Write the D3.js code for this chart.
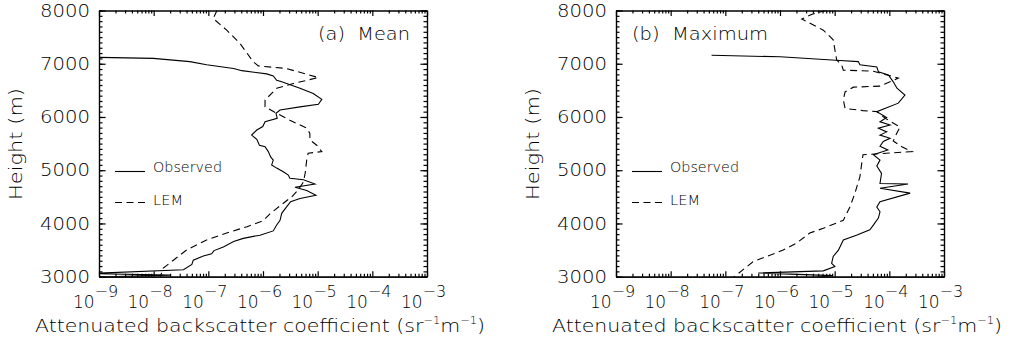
<!DOCTYPE html>
<html><head><meta charset="utf-8">
<script src="https://cdn.jsdelivr.net/npm/d3@7"></script>
<style>
html,body{margin:0;padding:0;background:#fff;}
svg text{font-family:"DejaVu Sans",sans-serif;font-weight:200;fill:#000;}
</style></head>
<body><svg id="c" width="1018" height="343"></svg>
<script>
// ---------- data ----------
const heightTicks = [3000, 4000, 5000, 6000, 7000, 8000];
const decadeTicks = [1e-9, 1e-8, 1e-7, 1e-6, 1e-5, 1e-4, 1e-3];
const decadeExponents = ["\u22129", "\u22128", "\u22127", "\u22126", "\u22125", "\u22124", "\u22123"];
const panelTitles = ["(a)  Mean", "(b)  Maximum"];
const legendLabels = ["Observed", "LEM"];

// (a) Mean, observed
const meanObsHeight = [7120,7120,7100,7040,6980,6910,6870,6810,6770,6690,6660,6540,6440,6330,6240,6190,6130,6070,5975,5910,5820,5755,5660,5580,5470,5440,5350,5250,5190,5100,5040,4970,4910,4850,4820,4740,4680,4620,4530,4470,4410,4310,4190,4060,3970,3860,3780,3720,3660,3560,3490,3430,3390,3310,3230,3130,3060,3030,2990];
const meanObsValue  = [6.8e-10,8.9e-10,9.8e-9,4.6e-8,9.3e-8,2.9e-7,4.1e-7,1.17e-6,1.54e-6,1.78e-6,2.2e-6,4.75e-6,8.3e-6,1.19e-5,1.03e-5,4.75e-6,2.05e-6,1.73e-6,1.82e-6,1.09e-6,9.9e-7,7.7e-7,6.2e-7,7.7e-7,8.6e-7,1.09e-6,1.25e-6,1.38e-6,1.54e-6,1.44e-6,1.78e-6,2.35e-6,2.9e-6,3.1e-6,5.5e-6,8.9e-6,3.85e-6,6.3e-6,9.3e-6,4.75e-6,3.2e-6,2.7e-6,2.2e-6,2.05e-6,1.78e-6,1.54e-6,8.8e-7,4.35e-7,2.9e-7,1.88e-7,1.27e-7,1.15e-7,8.1e-8,5.3e-8,5.0e-8,3.5e-8,6.8e-10,2.0e-8,6.8e-10];
// (a) Mean, LEM
const meanLemHeight = [8000,7850,7630,7380,7040,6960,6910,6740,6630,6540,6380,6320,6190,6070,5940,5790,5690,5570,5470,5350,5320,5190,4940,4780,4630,4500,4380,4180,4050,3940,3820,3690,3500,3310,3160,2980];
const meanLemValue  = [1.44e-7,1.23e-7,2.17e-7,3.8e-7,6.6e-7,8.2e-7,2.7e-6,1.03e-5,3.6e-6,1.78e-6,1.25e-6,1.09e-6,1.09e-6,1.78e-6,3.1e-6,6.3e-6,7.2e-6,7.2e-6,9.6e-6,1.19e-5,6.7e-6,6.3e-6,5.9e-6,5.5e-6,4.4e-6,3.35e-6,2.35e-6,1.34e-6,1.0e-6,5.1e-7,2.17e-7,9.3e-8,4.0e-8,2.29e-8,1.5e-8,1.3e-8];
// (b) Maximum, observed
const maxObsHeight = [7160,7130,7060,7040,6980,6940,6850,6790,6660,6540,6410,6260,6100,5990,5910,5850,5790,5720,5660,5600,5540,5450,5380,5290,5190,5080,4940,4750,4740,4660,4570,4410,4310,4220,4100,3970,3880,3780,3690,3560,3500,3380,3250,3190,3110,3070,3020,2960];
const maxObsValue  = [5.6e-8,1.0e-6,1.25e-5,2.7e-5,2.9e-5,5.9e-5,6.3e-5,9.6e-5,1.18e-4,1.38e-4,1.93e-4,1.46e-4,5.9e-5,8.95e-5,6.75e-5,1.03e-4,6.3e-5,8.95e-5,6.75e-5,1.03e-4,7.75e-5,6.75e-5,9.4e-5,5.1e-5,6.75e-5,5.9e-5,7.2e-5,6.75e-5,2.2e-4,6.75e-5,2.4e-4,6.75e-5,5.9e-5,6.75e-5,6.3e-5,5.1e-5,4.4e-5,2.5e-5,1.44e-5,1.25e-5,1.17e-5,9.4e-6,8.8e-6,1.01e-5,6.2e-6,4.0e-7,9.3e-6,2.3e-6];
// (b) Maximum, LEM
const maxLemHeight = [8000,7930,7840,7630,7450,7260,7070,6980,6880,6860,6730,6580,6560,6470,6320,6160,6120,6100,5980,5810,5690,5550,5440,5350,5290,5100,4880,4570,4310,4060,3910,3820,3630,3500,3280,2985];
const maxLemValue  = [6.9e-6,3.85e-6,2.5e-6,6.2e-6,9.4e-6,1.01e-5,1.09e-5,1.34e-5,1.44e-5,5.1e-5,1.46e-4,6.75e-5,2.2e-5,1.55e-5,1.44e-5,1.55e-5,3.3e-5,5.9e-5,8.3e-5,1.57e-4,1.36e-4,1.18e-4,1.7e-4,2.6e-4,3.3e-5,3.1e-5,2.9e-5,2.35e-5,1.9e-5,1.44e-5,6.2e-6,3.5e-6,2.0e-6,1.14e-6,3.2e-7,1.4e-7];

// ---------- layout ----------
const svg = d3.select("#c");
const plotTop = 10.5, plotBottom = 276.7;
const panels = [
  {left: 99,  right: 427, title: panelTitles[0], obs: d3.zip(meanObsValue, meanObsHeight), lem: d3.zip(meanLemValue, meanLemHeight), titleX: 318, titleLen: 92},
  {left: 616, right: 944, title: panelTitles[1], obs: d3.zip(maxObsValue, maxObsHeight),  lem: d3.zip(maxLemValue, maxLemHeight),  titleX: 632, titleLen: 136}
];
const minorX = d3.range(-9, -3).flatMap(e => d3.range(2, 10).map(k => k * Math.pow(10, e)));
const minorY = d3.range(3000, 8001, 100);

panels.forEach((p, i) => {
  const x = d3.scaleLog().domain([1e-9, 1e-3]).range([p.left, p.right]);
  const y = d3.scaleLinear().domain([3000, 8000]).range([plotBottom, plotTop]);
  const g = svg.append("g");

  const clipId = "clip" + i;
  svg.append("clipPath").attr("id", clipId).append("rect")
    .attr("x", p.left).attr("y", plotTop).attr("width", p.right - p.left).attr("height", plotBottom - plotTop);

  const styleAxis = sel => {
    sel.select(".domain").attr("stroke", "#000").attr("stroke-width", 1.2);
    sel.selectAll(".tick line").attr("stroke", "#000").attr("stroke-width", 1.2);
  };

  // minor ticks
  g.append("g").attr("transform", `translate(0,${plotBottom})`)
    .call(d3.axisBottom(x).tickValues(minorX).tickSizeInner(-3).tickSizeOuter(0).tickFormat(""))
    .call(styleAxis);
  g.append("g").attr("transform", `translate(0,${plotTop})`)
    .call(d3.axisTop(x).tickValues(minorX).tickSizeInner(-3).tickSizeOuter(0).tickFormat(""))
    .call(styleAxis);
  g.append("g").attr("transform", `translate(${p.left},0)`)
    .call(d3.axisLeft(y).tickValues(minorY).tickSizeInner(-3.5).tickSizeOuter(0).tickFormat(""))
    .call(styleAxis);
  g.append("g").attr("transform", `translate(${p.right},0)`)
    .call(d3.axisRight(y).tickValues(minorY).tickSizeInner(-3.5).tickSizeOuter(0).tickFormat(""))
    .call(styleAxis);

  // major ticks
  const xb = g.append("g").attr("transform", `translate(0,${plotBottom})`)
    .call(d3.axisBottom(x).tickValues(decadeTicks).tickSizeInner(-5.5).tickSizeOuter(0))
    .call(styleAxis);
  xb.selectAll(".tick text").each(function(d, j) {
    const t = d3.select(this);
    t.text("").attr("y", 31.5).attr("dy", null).attr("x", -4)
      .attr("text-anchor", "middle").attr("font-size", 17).attr("fill", "#000");
    t.append("tspan").text("10");
    t.append("tspan").attr("dy", -11).attr("font-size", 16).text(decadeExponents[j]);
  });
  g.append("g").attr("transform", `translate(0,${plotTop})`)
    .call(d3.axisTop(x).tickValues(decadeTicks).tickSizeInner(-5.5).tickSizeOuter(0).tickFormat(""))
    .call(styleAxis);
  const yl = g.append("g").attr("transform", `translate(${p.left},0)`)
    .call(d3.axisLeft(y).tickValues(heightTicks).tickSizeInner(-6.6).tickSizeOuter(0).tickPadding(9).tickFormat(d3.format("d")))
    .call(styleAxis);
  yl.selectAll(".tick text").attr("font-size", 17.5).attr("fill", "#000")
    .attr("textLength", 50).attr("lengthAdjust", "spacingAndGlyphs").attr("x", -9);
  g.append("g").attr("transform", `translate(${p.right},0)`)
    .call(d3.axisRight(y).tickValues(heightTicks).tickSizeInner(-6.6).tickSizeOuter(0).tickFormat(""))
    .call(styleAxis);

  // curves
  const line = d3.line().x(d => x(d[0])).y(d => y(d[1]));
  const cg = g.append("g").attr("clip-path", `url(#${clipId})`);
  cg.append("path").datum(p.obs).attr("d", line).attr("fill", "none").attr("stroke", "#000").attr("stroke-width", 1.1);
  cg.append("path").datum(p.lem).attr("d", line).attr("fill", "none").attr("stroke", "#000").attr("stroke-width", 1.1).attr("stroke-dasharray", "7,4.5");

  // legend
  const lx = p.left + 16;
  g.append("line").attr("x1", lx).attr("x2", lx + 30).attr("y1", 171.5).attr("y2", 171.5).attr("stroke", "#000").attr("stroke-width", 1.1);
  g.append("text").attr("x", lx + 38).attr("y", 172).attr("font-size", 14).text(legendLabels[0]).attr("textLength", 69).attr("lengthAdjust", "spacingAndGlyphs");
  g.append("line").attr("x1", lx).attr("x2", lx + 30).attr("y1", 202.5).attr("y2", 202.5).attr("stroke", "#000").attr("stroke-width", 1.1).attr("stroke-dasharray", "7,4.5");
  g.append("text").attr("x", lx + 38).attr("y", 204.5).attr("font-size", 14).text(legendLabels[1]).attr("textLength", 30).attr("lengthAdjust", "spacingAndGlyphs");

  // panel title
  g.append("text").attr("x", p.titleX).attr("y", 39.5).attr("font-size", 18).attr("xml:space", "preserve")
    .text(p.title).attr("textLength", p.titleLen).attr("lengthAdjust", "spacingAndGlyphs");

  // y title
  g.append("text").attr("transform", `translate(${p.left - 77.5},144) rotate(-90)`)
    .attr("text-anchor", "middle").attr("font-size", 18).attr("textLength", 112).attr("lengthAdjust", "spacingAndGlyphs")
    .text("Height (m)");

  // x title
  const xt = g.append("text").attr("x", (p.left + p.right) / 2 - 3).attr("y", 331.5).attr("text-anchor", "middle")
    .attr("font-size", 18).attr("textLength", 450).attr("lengthAdjust", "spacingAndGlyphs");
  xt.append("tspan").text("Attenuated backscatter coefficient (sr");
  xt.append("tspan").attr("font-size", 10).attr("dy", -8).text("\u22121");
  xt.append("tspan").attr("dy", 8).text("m");
  xt.append("tspan").attr("font-size", 10).attr("dy", -8).text("\u22121");
  xt.append("tspan").attr("dy", 8).text(")");
});
</script></body></html>
